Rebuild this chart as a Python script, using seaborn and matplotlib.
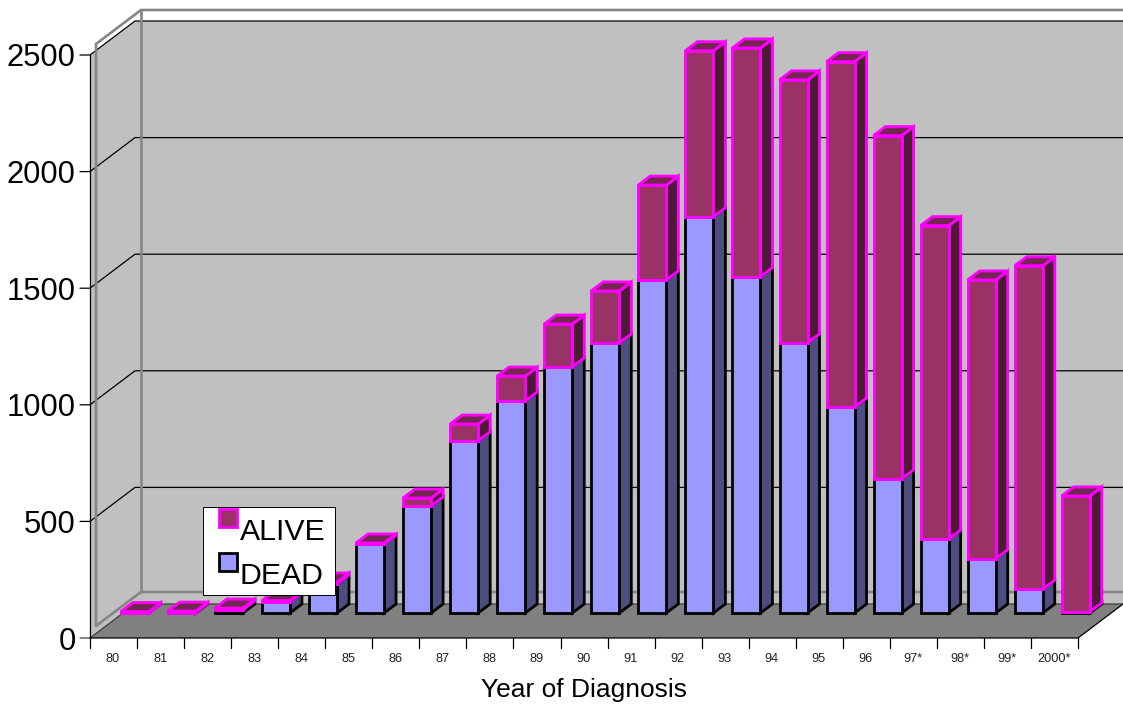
import numpy as np
import pandas as pd
import seaborn as sns
import matplotlib.pyplot as plt
from matplotlib.patches import Polygon, Rectangle

W, H = 1123, 704

years = ['80', '81', '82', '83', '84', '85', '86', '87', '88', '89', '90',
         '91', '92', '93', '94', '95', '96', '97*', '98*', '99*', '2000*']
dead = [0, 2, 13, 48, 125, 295, 459, 738, 909, 1055, 1158,
        1428, 1699, 1442, 1158, 883, 575, 317, 233, 102, 6]
alive = [6, 6, 8, 5, 8, 5, 34, 72, 107, 184, 223,
         407, 712, 981, 1128, 1481, 1472, 1344, 1195, 1387, 496]
y_ticks = [0, 500, 1000, 1500, 2000, 2500]

# Excel style 3D geometry, all in pixels of the reference
PX_PER_UNIT = 0.2332
CELL = 47.05
DEPTH_X, DEPTH_Y = 45, 34
AXIS_X, AXIS_Y = 90, 638
BAR_X0, BAR_Y0 = 134.8, 613
BAR_W = 28 / CELL
BAR_DX = 12 / CELL
BAR_DY = 9 / PX_PER_UNIT

BLUE, BLUE_SIDE = '#9999FF', '#4D4D80'
WINE, WINE_SIDE, WINE_TOP = '#993366', '#4D1A33', '#732650'
PINK = '#FF00FF'
WALL, FLOOR, FRAME = '#C0C0C0', '#808080', '#868686'

sns.set_theme(style='white')
plt.rcParams['font.family'] = ['Liberation Sans', 'DejaVu Sans']

fig = plt.figure(figsize=(W / 100, H / 100), dpi=100, facecolor='white')


def pixel_axes(zorder):
    ax = fig.add_axes([0, 0, 1, 1], zorder=zorder)
    ax.set_xlim(0, W)
    ax.set_ylim(H, 0)
    ax.set_axis_off()
    return ax


# walls, floor, grid and axis labels
ax_bg = pixel_axes(0)
top = AXIS_Y - 2500 * PX_PER_UNIT
right = AXIS_X + CELL * len(years)
ax_bg.add_patch(Polygon([(AXIS_X, top), (AXIS_X + DEPTH_X, top - DEPTH_Y), (W, top - DEPTH_Y),
                         (W, AXIS_Y - DEPTH_Y), (AXIS_X, AXIS_Y)], fc=WALL, ec='none'))
ax_bg.add_patch(Polygon([(AXIS_X, AXIS_Y), (AXIS_X + DEPTH_X, AXIS_Y - DEPTH_Y), (W, AXIS_Y - DEPTH_Y),
                         (right, AXIS_Y)], fc=FLOOR, ec='none'))

for v in y_ticks:
    y = AXIS_Y - v * PX_PER_UNIT
    ax_bg.plot([AXIS_X - 10, AXIS_X, AXIS_X + DEPTH_X, W], [y, y, y - DEPTH_Y, y - DEPTH_Y],
               color='black' if v else '#404040', lw=0.9, solid_joinstyle='miter')
    ax_bg.text(AXIS_X - 14.5, y, str(v), ha='right', va='center_baseline', fontsize=22.3, color='black')

# thick grey wall frame
fx, fy = AXIS_X + 6, AXIS_Y - 12
ax_bg.plot([fx, fx, fx + DEPTH_X, W], [fy, fy - 582, fy - 582 - DEPTH_Y, fy - 582 - DEPTH_Y],
           color=FRAME, lw=1.9, solid_joinstyle='miter')
ax_bg.plot([fx, fx + DEPTH_X, W], [fy, fy - DEPTH_Y, fy - DEPTH_Y], color=FRAME, lw=1.9)
ax_bg.plot([fx + DEPTH_X, fx + DEPTH_X], [fy - DEPTH_Y, fy - 582 - DEPTH_Y], color=FRAME, lw=1.9)

ax_bg.plot([AXIS_X, AXIS_X], [top, AXIS_Y], color='black', lw=0.9)
ax_bg.plot([AXIS_X, right, right + DEPTH_X], [AXIS_Y, AXIS_Y, AXIS_Y - DEPTH_Y], color='black', lw=0.9)
for i in range(len(years) + 1):
    x = AXIS_X + CELL * i
    ax_bg.plot([x, x], [AXIS_Y, AXIS_Y + 10], color='black', lw=0.9)
for i, label in enumerate(years):
    ax_bg.text(AXIS_X + CELL * (i + 0.5) - 0.5, 659, label, ha='center', va='center', fontsize=9.2, color='#222222')
ax_bg.text(584, 690, 'Year of Diagnosis', ha='center', va='center', fontsize=19, color='black')

# bars: x is the category index, y the patient count, on the plane the bars stand on
df = pd.DataFrame({'year': years, 'DEAD': dead, 'ALIVE': alive})
ax = fig.add_axes([0, 0, 1, 1], zorder=1)
ax.patch.set_visible(False)
sns.barplot(data=df, x='year', y='DEAD', color=BLUE, saturation=1, width=BAR_W,
            edgecolor='black', linewidth=2.0, ax=ax)
sns.barplot(data=df, x='year', y='ALIVE', bottom=df['DEAD'].values, color=WINE, saturation=1, width=BAR_W,
            edgecolor=PINK, linewidth=2.1, ax=ax)
ax.set_xlim(-BAR_X0 / CELL, (W - BAR_X0) / CELL)
ax.set_ylim((BAR_Y0 - H) / PX_PER_UNIT, BAR_Y0 / PX_PER_UNIT)
ax.set_axis_off()


def side_face(i, lo, hi, fc, ec, z, lw):
    x = i + BAR_W / 2
    ax.add_patch(Polygon([(x, lo), (x + BAR_DX, lo + BAR_DY), (x + BAR_DX, hi + BAR_DY), (x, hi)],
                         fc=fc, ec=ec, lw=lw, zorder=z, joinstyle='miter'))


def top_face(i, v, fc, ec, z, lw):
    x = i - BAR_W / 2
    ax.add_patch(Polygon([(x, v), (x + BAR_DX, v + BAR_DY), (x + BAR_W + BAR_DX, v + BAR_DY), (x + BAR_W, v)],
                         fc=fc, ec=ec, lw=lw, zorder=z, joinstyle='miter'))


for i in range(len(years)):
    total = dead[i] + alive[i]
    side_face(i, 0, dead[i], BLUE_SIDE, 'black', 0.8, 2.0)
    side_face(i, dead[i], total, WINE_SIDE, PINK, 0.9, 2.1)
    top_face(i, total, WINE_TOP, PINK, 0.9, 2.1)

# legend box, the swatches sit higher than the text as in the original
ax_leg = pixel_axes(2)
ax_leg.add_patch(Rectangle((203, 507), 132, 88, fc='white', ec='black', lw=0.7))
ax_leg.add_patch(Rectangle((218.5, 509), 18, 18, fc=WINE, ec=PINK, lw=2.0))
ax_leg.add_patch(Rectangle((218.5, 553), 18, 18, fc=BLUE, ec='black', lw=2.0))
ax_leg.text(239.5, 540, 'ALIVE', ha='left', va='baseline', fontsize=21.8, color='black')
ax_leg.text(239.5, 584, 'DEAD', ha='left', va='baseline', fontsize=21.8, color='black')

fig.savefig('out.png', dpi=100)
